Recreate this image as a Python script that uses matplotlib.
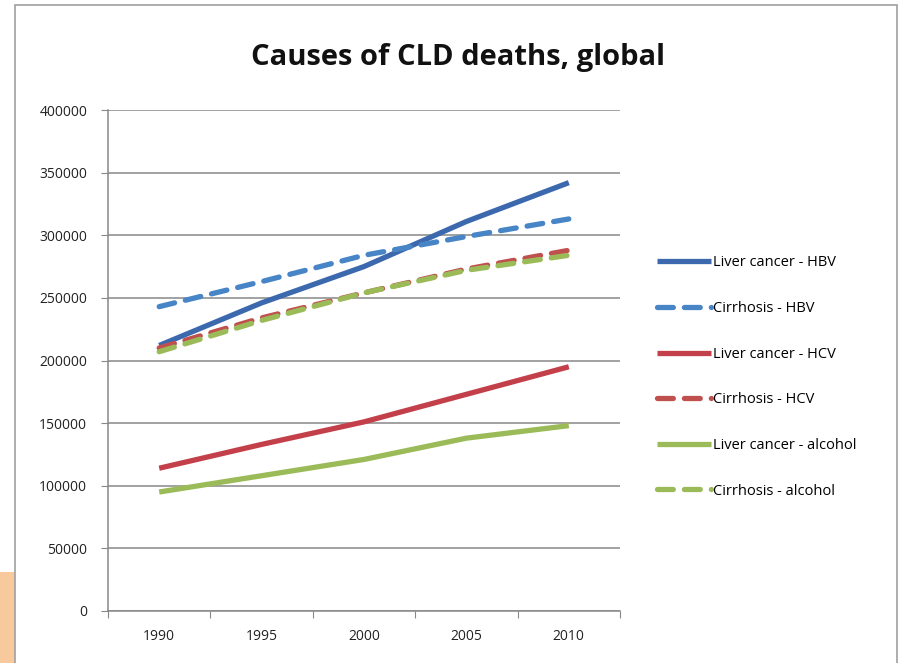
import matplotlib.pyplot as plt
from matplotlib.patches import Rectangle

years = ["1990", "1995", "2000", "2005", "2010"]
liver_hbv = [212000, 246000, 275000, 311000, 342000]
cirr_hbv = [243000, 263000, 284000, 299000, 313000]
liver_hcv = [114000, 133000, 151000, 173000, 195000]
cirr_hcv = [210000, 234000, 254000, 273000, 288000]
liver_alc = [95000, 108000, 121000, 138000, 148000]
cirr_alc = [207000, 232000, 254000, 272000, 284000]

labels = ["Liver cancer - HBV", "Cirrhosis - HBV", "Liver cancer - HCV",
          "Cirrhosis - HCV", "Liver cancer - alcohol", "Cirrhosis - alcohol"]
series = [liver_hbv, cirr_hbv, liver_hcv, cirr_hcv, liver_alc, cirr_alc]
colors = ["#3c69ad", "#4785c6", "#c3404a", "#c0504d", "#9bbb59", "#9bbb59"]
styles = ["-", "--", "-", "--", "-", "--"]

fig = plt.figure(figsize=(9.04, 6.63), dpi=100)
fig.patch.set_facecolor("white")

# slide background peeking out at the lower left, and the chart frame
fig.patches.append(Rectangle((0, 0), 15 / 904, 91 / 663, transform=fig.transFigure,
                             facecolor="#f8c99c", edgecolor="none", zorder=-2))
fig.patches.append(Rectangle((15 / 904, -0.01), 882 / 904, 1 - 5 / 663 + 0.01,
                             transform=fig.transFigure, facecolor="white",
                             edgecolor="#a0a0a0", linewidth=1.2, zorder=-1))

ax = fig.add_axes([108 / 904, 52 / 663, 512 / 904, 501 / 663])
ax.set_facecolor("none")

x = list(range(len(years)))
for vals, col, ls, lab in zip(series, colors, styles, labels):
    line, = ax.plot(x, vals, color=col, linestyle=ls, linewidth=3.8, label=lab,
                    solid_capstyle="butt", dash_capstyle="round")
    if ls == "--":
        line.set_dashes((3.0, 2.1))

ax.set_xlim(-0.5, 4.5)
ax.set_ylim(0, 400000)
ax.set_yticks(range(0, 400001, 50000))
ax.set_yticklabels([str(v) for v in range(0, 400001, 50000)])
ax.grid(axis="y", color="#878787", linewidth=1.1)
ax.set_axisbelow(True)

ax.set_xticks([i - 0.5 for i in range(6)])
ax.set_xticklabels([])
ax.set_xticks(x, minor=True)
ax.set_xticklabels(years, minor=True)
ax.tick_params(axis="x", which="minor", length=0, pad=13)
ax.tick_params(axis="x", which="major", length=5, color="#888888")
ax.tick_params(axis="y", length=5, color="#888888", pad=10)
for lab in ax.get_xticklabels(minor=True) + ax.get_yticklabels():
    lab.set_fontsize(10)
    lab.set_color("#222222")
    lab.set_fontfamily("Open Sans")

for side in ["top", "right"]:
    ax.spines[side].set_visible(False)
for side in ["left", "bottom"]:
    ax.spines[side].set_color("#888888")
    ax.spines[side].set_linewidth(1.1)

fig.text(458 / 904, 1 - 58 / 663, "Causes of CLD deaths, global", ha="center", va="center",
         fontsize=21, fontweight="bold", family="Open Sans", color="#111111")

ax.legend(loc="center left", bbox_to_anchor=(644 / 904, 1 - 377 / 663),
          bbox_transform=fig.transFigure, frameon=False, handlelength=3.7,
          handletextpad=0.1, labelspacing=2.1,
          prop={"family": "Open Sans", "size": 10.5})

fig.savefig("out.png", dpi=100)
